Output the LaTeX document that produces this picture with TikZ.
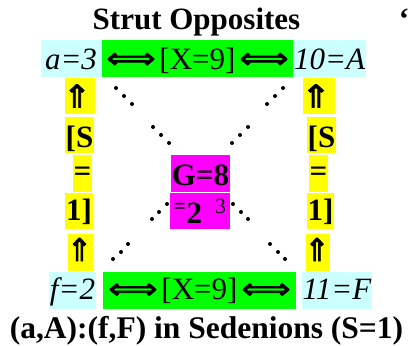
\documentclass[tikz,border=0pt]{standalone}
\usepackage{fontspec}
\usepackage{graphicx}
\setmainfont{Liberation Serif}
\newfontfamily\arrowfont[FakeBold=2.5]{DejaVu Sans}
\definecolor{hlcyan}{HTML}{CCFFFF}
\definecolor{hlgreen}{HTML}{00FF00}
\definecolor{hlyellow}{HTML}{FFFF00}
\definecolor{hlmagenta}{HTML}{FF00FF}
\newcommand{\myLLR}{\raisebox{1pt}{\resizebox*{49pt}{15pt}{\raisebox{\depth}{\arrowfont ⟺}}}}
\newcommand{\myUp}[3]{\makebox[#2pt][l]{\hspace{#3pt}\resizebox*{#1pt}{23pt}{\raisebox{\depth}{\arrowfont ⇑}}}}
\begin{document}
\begin{tikzpicture}[x=1pt,y=-1pt,
  every node/.style={inner sep=0pt,outer sep=0pt,font=\fontsize{31}{36}\selectfont},
  hl/.style n args={3}{fill=#1,minimum width=#2pt,minimum height=#3pt},
  tb/.style 2 args={text height=#1pt,text depth=#2pt},
  bf/.style={font=\fontsize{31}{36}\selectfont\bfseries},
  dot/.style={fill=black}]
\useasboundingbox (0,0) rectangle (411,345);
% title
\node[anchor=base,bf] (title) at (196.5,30) {Strut Opposites};
\node[anchor=base,bf] (quote) at (404,30) {‘};
% top row
\node[hl={hlcyan}{60}{37},tb={25}{4}] (a3) at (71,58.5) {\itshape a=3\hspace{7pt}};
\node[hl={hlgreen}{191}{37},tb={25}{4}] (xtop) at (197.5,58.5) {\myLLR\hspace{4pt}[X=9]\hspace{4pt}\myLLR\hspace{7pt}};
\node[hl={hlcyan}{73}{37},tb={25}{4}] (tenA) at (329.5,58.5) {\itshape 10=A};
% left column
\node[hl={hlyellow}{30}{36}] (lu1) at (80,96) {\myUp{28}{30}{-2}};
\node[hl={hlyellow}{29}{36},tb={28}{4},bf] (lS) at (79.5,135) {[S};
\node[hl={hlyellow}{19}{37},tb={20}{4},bf] (lEq) at (82.5,173.5) {=};
\node[hl={hlyellow}{28}{36},tb={22}{4},bf] (l1) at (79,211) {1]};
\node[hl={hlyellow}{25}{37},tb={23}{6}] (lu2) at (80.5,252.5) {\myUp{25}{25}{-1}};
% right column
\node[hl={hlyellow}{32}{36}] (ru1) at (319,96) {\myUp{30}{32}{-2}};
\node[hl={hlyellow}{29}{36},tb={28}{4},bf] (rS) at (321.5,135) {[S};
\node[hl={hlyellow}{19}{37},tb={20}{4},bf] (rEq) at (318.5,173.5) {=};
\node[hl={hlyellow}{27}{36},tb={22}{4},bf] (r1) at (320.5,211) {1]};
\node[hl={hlyellow}{24}{37},tb={23}{6}] (ru2) at (318,252.5) {\myUp{25}{24}{-1.5}};
% centre
\node[hl={hlmagenta}{59}{37},tb={27}{4},bf] (g8) at (200.5,173.5) {G=8};
\node[hl={hlmagenta}{60}{36},tb={28}{4}] (two) at (200,211) {\textbf{\textsuperscript{=}2}\hspace{13pt}\textsuperscript{3}};
% bottom row
\node[hl={hlcyan}{47}{37},tb={22}{4}] (f2) at (72.5,290) {\itshape f=2};
\node[hl={hlgreen}{193}{37},tb={22}{4}] (xbot) at (199.5,290.5) {\myLLR\hspace{4pt}[X=9]\hspace{4pt}\myLLR\hspace{7pt}};
\node[hl={hlcyan}{70}{37},tb={22}{4}] (elevenF) at (337,290) {\itshape 11=F};
% caption
\node[anchor=base,font=\fontsize{31.5}{36}\selectfont\bfseries] (caption) at (206.5,338) {(a,A):(f,F) in Sedenions (S=1)};
% dots
\foreach \p in {(116,88),(124,96),(132,104),
                (283,88),(275,96),(267,104),
                (153,127),(161,135),(169,143),
                (248,127),(240,135),(232,143),
                (152,219),(159,212),(167,204),
                (233,204),(241,212),(248,219),
                (113,259),(121,252),(128,244),
                (270,244),(278,252),(285,259)}
  \fill[dot] \p circle (2pt);
\end{tikzpicture}
\end{document}
